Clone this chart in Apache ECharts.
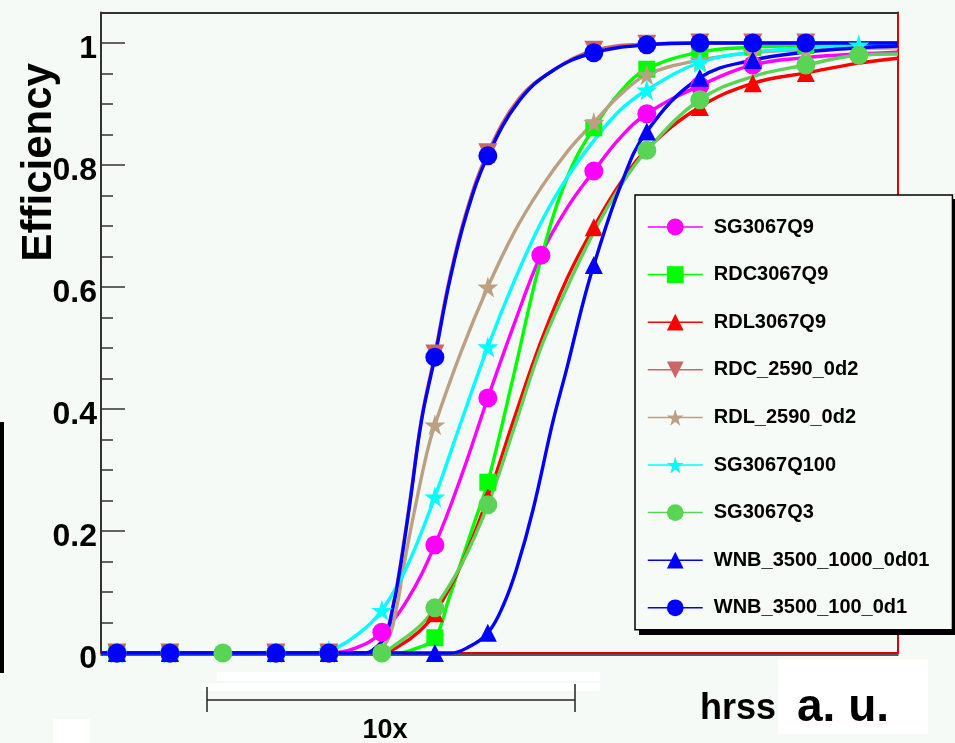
<!DOCTYPE html>
<html>
<head>
<meta charset="utf-8">
<script src="https://cdn.jsdelivr.net/npm/echarts@6/dist/echarts.min.js"></script>
<style>
html,body{margin:0;padding:0;background:#f6faf7;}
#chart{width:955px;height:743px;}
</style>
</head>
<body>
<div id="chart"></div>
<script>
// ---- data (x = hrss step index, y = efficiency) ----
const seriesNames = ['SG3067Q9','RDC3067Q9','RDL3067Q9','RDC_2590_0d2','RDL_2590_0d2','SG3067Q100','SG3067Q3','WNB_3500_1000_0d01','WNB_3500_100_0d1'];
const yTickValues = [0, 0.2, 0.4, 0.6, 0.8, 1];

const sg3067q9Curve = [[-0.3,0],[0,0],[1,0],[2,0],[3,0],[4,0],[4.5,0.008],[5,0.034],[5.5,0.09],[6,0.177],[6.5,0.29],[7,0.418],[7.5,0.54],[8,0.652],[8.5,0.73],[9,0.79],[9.5,0.845],[10,0.884],[11,0.93],[12,0.964],[13,0.976],[14,0.982],[14.74,0.985]];
const sg3067q9Marks = [0,1,3,4,5,6,7,8,9,10,11,12];

const rdc3067q9Curve = [[-0.3,0],[0,0],[1,0],[2,0],[3,0],[4,0],[5,0],[5.3,0],[5.6,0.006],[6,0.025],[6.25,0.085],[6.5,0.15],[6.75,0.215],[7,0.28],[7.5,0.46],[8,0.645],[8.5,0.78],[9,0.861],[9.5,0.92],[10,0.957],[11,0.985],[12,0.993],[13,0.996],[14.74,0.998]];
const rdc3067q9Marks = [0,1,3,4,6,7,9,10,11,12,13];

const rdl3067q9Curve = [[-0.3,0],[0,0],[1,0],[2,0],[3,0],[4,0],[5,0],[5.3,0.01],[5.7,0.035],[6,0.065],[6.5,0.145],[7,0.255],[7.5,0.385],[8,0.51],[8.5,0.615],[9,0.698],[9.5,0.77],[10,0.826],[11,0.895],[12,0.934],[13,0.951],[14,0.967],[14.74,0.975]];
const rdl3067q9Marks = [0,1,3,4,6,7,9,11,12,13];

const rdc2590Curve = [[-0.3,0],[0,0],[1,0],[2,0],[3,0],[4,0],[4.7,0],[4.85,0.006],[5.06,0.028],[5.21,0.078],[5.34,0.14],[5.53,0.25],[5.75,0.385],[6,0.49],[6.28,0.615],[6.6,0.725],[7,0.82],[7.6,0.91],[8.23,0.955],[9,0.988],[10,0.998],[11,1],[12,1],[13,1],[14.74,1]];
const rdc2590Marks = [0,1,3,4,6,7,9,10,11,12,13];

const rdl2590Curve = [[-0.3,0],[0,0],[1,0],[2,0],[3,0],[4,0],[4.8,0],[5.1,0.02],[5.28,0.075],[5.4,0.136],[5.58,0.218],[5.85,0.328],[6,0.374],[6.5,0.495],[7,0.6],[7.5,0.69],[8,0.762],[8.5,0.822],[9,0.87],[9.5,0.915],[10,0.948],[11,0.972],[12,0.984],[13,0.989],[14.74,0.992]];
const rdl2590Marks = [0,1,3,4,6,7,9,10,11,12,13];

const sg3067q100Curve = [[-0.3,0],[0,0],[1,0],[2,0],[3,0],[3.6,0],[4,0.004],[4.58,0.033],[5,0.07],[5.47,0.141],[6,0.256],[6.5,0.38],[7,0.502],[7.5,0.61],[8,0.705],[8.5,0.78],[9,0.84],[9.5,0.89],[10,0.923],[11,0.968],[12,0.985],[13,0.992],[14,0.997],[14.74,0.997]];
const sg3067q100Marks = [0,1,3,4,5,6,7,10,11,14];

const sg3067q3Curve = [[-0.3,0],[0,0],[1,0],[2,0],[3,0],[4,0],[5,0],[5.2,0.01],[5.7,0.043],[6,0.074],[6.5,0.145],[7,0.243],[7.5,0.37],[8,0.5],[8.5,0.6],[9,0.69],[9.5,0.765],[10,0.824],[11,0.907],[12,0.945],[13,0.964],[14,0.98],[14.74,0.982]];
const sg3067q3Marks = [0,1,2,3,4,5,6,7,10,11,13,14];

const wnb1000Curve = [[-0.3,0],[0,0],[1,0],[2,0],[3,0],[4,0],[5,0],[6,0],[6.3,0],[6.6,0.008],[7,0.033],[7.3,0.08],[7.55,0.14],[7.85,0.234],[8.23,0.38],[8.5,0.47],[8.8,0.575],[9,0.636],[9.5,0.765],[10,0.855],[11,0.943],[12,0.972],[13,0.985],[14,0.992],[14.74,0.995]];
const wnb1000Marks = [0,1,3,4,6,7,9,10,11,12];

const wnb100Curve = [[-0.3,0],[0,0],[1,0],[2,0],[3,0],[4,0],[4.7,0],[4.83,0.005],[5.06,0.026],[5.21,0.075],[5.34,0.136],[5.53,0.246],[5.75,0.382],[6,0.485],[6.28,0.61],[6.6,0.72],[7,0.815],[7.6,0.906],[8.23,0.955],[9,0.984],[10,0.997],[11,1],[12,1],[13,1],[14.74,1]];
const wnb100Marks = [0,1,3,4,6,7,9,10,11,12,13];

// ---- styling ----
const FONT = '"Liberation Sans", Arial, Helvetica, sans-serif';
const STAR = 'path://M50,0 L61,35 L98,35 L68,57 L79,91 L50,70 L21,91 L32,57 L2,35 L39,35 Z';

function mk(name, curve, marks, color, symbol, size, rotate) {
  return {
    type: 'line',
    name: name,
    xAxisIndex: 0,
    yAxisIndex: 0,
    smooth: 0.4,
    symbol: symbol,
    symbolSize: size,
    symbolRotate: rotate || 0,
    showSymbol: true,
    showAllSymbol: true,
    lineStyle: { color: color, width: 3.4 },
    itemStyle: { color: color },
    emphasis: { disabled: true },
    animation: false,
    data: curve.map(p => marks.indexOf(p[0]) >= 0 ? { value: p } : { value: p, symbol: 'none' })
  };
}

const series = [
  mk(seriesNames[0], sg3067q9Curve, sg3067q9Marks, '#ff00ff', 'circle', 19),
  mk(seriesNames[1], rdc3067q9Curve, rdc3067q9Marks, '#00ff00', 'rect', 17),
  mk(seriesNames[2], rdl3067q9Curve, rdl3067q9Marks, '#ff0000', 'triangle', 18),
  mk(seriesNames[3], rdc2590Curve, rdc2590Marks, '#cc6666', 'triangle', 19, 180),
  mk(seriesNames[4], rdl2590Curve, rdl2590Marks, '#bba084', STAR, 21),
  mk(seriesNames[5], sg3067q100Curve, sg3067q100Marks, '#00ffff', STAR, 21),
  mk(seriesNames[6], sg3067q3Curve, sg3067q3Marks, '#59d454', 'circle', 19),
  mk(seriesNames[7], wnb1000Curve, wnb1000Marks, '#0000ff', 'triangle', 18),
  mk(seriesNames[8], wnb100Curve, wnb100Marks, '#0000ff', 'circle', 19)
];

const X_MIN = -0.3, X_MAX = 14.74, Y_MIN = 0, Y_MAX = 1.05;
const hidden = { axisTick: { show: false }, axisLabel: { show: false }, splitLine: { show: false } };

const chart = echarts.init(document.getElementById('chart'), null, { renderer: 'canvas' });
chart.setOption({
  backgroundColor: '#f6faf7',
  animation: false,
  grid: { left: 101, right: 57, top: 12.5, bottom: 90, containLabel: false, outerBoundsMode: 'none' },
  xAxis: [
    Object.assign({ type: 'value', min: X_MIN, max: X_MAX, position: 'bottom', offset: 0,
      axisLine: { show: true, onZero: false, lineStyle: { color: '#e00000', width: 2 } } }, hidden),
    Object.assign({ type: 'value', min: X_MIN, max: X_MAX, position: 'top', offset: 0,
      axisLine: { show: true, onZero: false, lineStyle: { color: '#333', width: 2 } } }, hidden),
    Object.assign({ type: 'value', min: X_MIN, max: X_MAX, position: 'bottom', offset: 2,
      axisLine: { show: true, onZero: false, lineStyle: { color: '#222', width: 1.5 } } }, hidden)
  ],
  yAxis: [
    {
      type: 'value', min: Y_MIN, max: Y_MAX, interval: 0.2, position: 'left', offset: 0,
      name: 'Efficiency', nameLocation: 'middle', nameRotate: 90, nameGap: 41, nameMoveOverlap: false,
      nameTextStyle: { fontFamily: FONT, fontWeight: 'bold', fontSize: 42, color: '#000', padding: [0, 0, 0, 341] },
      axisLine: { show: true, onZero: false, lineStyle: { color: '#333', width: 2 } },
      axisTick: { show: true, inside: true, length: 24, lineStyle: { color: '#333', width: 1.5 } },
      minorTick: { show: true, splitNumber: 4, length: 12, lineStyle: { color: '#333', width: 1.5 } },
      axisLabel: { show: true, showMaxLabel: false, margin: 4, fontFamily: FONT, fontWeight: 'bold', fontSize: 32, color: '#000',
        verticalAlign: 'top', lineHeight: 13,
        formatter: v => { const r = Math.round(v * 10) / 10; return yTickValues.indexOf(r) >= 0 ? String(r) : ''; } },
      splitLine: { show: false }
    },
    Object.assign({ type: 'value', min: Y_MIN, max: Y_MAX, position: 'right', offset: 0,
      axisLine: { show: true, onZero: false, lineStyle: { color: '#e00000', width: 2 } } }, hidden)
  ],
  legend: {
    orient: 'vertical', left: 635, top: 195, z: 10,
    itemWidth: 55, itemHeight: 21, itemGap: 27.6,
    padding: [22, 23, 12, 12],
    backgroundColor: '#f7fbf8', borderColor: '#000', borderWidth: 1.5,
    selectedMode: false,
    lineStyle: { width: 1.5 },
    textStyle: { fontFamily: FONT, fontWeight: 'bold', fontSize: 20, color: '#000', padding: [0, 0, 0, 6] },
    data: seriesNames
  },
  graphic: [
    { type: 'rect', z: -1, shape: { x: 0, y: 422, width: 4, height: 251 }, style: { fill: '#000' } },
    { type: 'rect', z: -1, shape: { x: 53, y: 719, width: 37, height: 24 }, style: { fill: '#ffffff' } },
    { type: 'rect', z: -1, shape: { x: 217, y: 672, width: 383, height: 9 }, style: { fill: '#ffffff' } },
    { type: 'rect', z: -1, shape: { x: 202, y: 683, width: 398, height: 8 }, style: { fill: '#ffffff' } },
    { type: 'rect', z: -1, shape: { x: 778, y: 659, width: 150, height: 75 }, style: { fill: '#ffffff' } },
    { type: 'rect', z: 9, shape: { x: 639, y: 199, width: 317, height: 436 }, style: { fill: '#000' } },
    { type: 'line', shape: { x1: 207, y1: 700, x2: 575, y2: 700 }, style: { stroke: '#222', lineWidth: 1.5 } },
    { type: 'line', shape: { x1: 207, y1: 687, x2: 207, y2: 712 }, style: { stroke: '#222', lineWidth: 1.5 } },
    { type: 'line', shape: { x1: 575, y1: 684, x2: 575, y2: 712 }, style: { stroke: '#222', lineWidth: 1.5 } },
    { type: 'text', style: { text: '10x', x: 385, y: 731, textAlign: 'center', textVerticalAlign: 'middle', font: 'bold 27px ' + FONT, fill: '#000' } },
    { type: 'text', style: { text: 'hrss', x: 700, y: 709, textAlign: 'left', textVerticalAlign: 'middle', font: 'bold 36px ' + FONT, fill: '#000' } },
    { type: 'text', style: { text: 'a. u.', x: 797, y: 708, textAlign: 'left', textVerticalAlign: 'middle', font: 'bold 46px ' + FONT, fill: '#000' } }
  ],
  series: series
});
</script>
</body>
</html>
